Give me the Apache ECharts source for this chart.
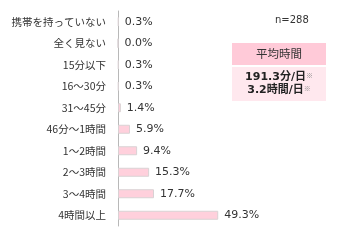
<!DOCTYPE html>
<html><head><meta charset="utf-8">
<script src="https://cdn.jsdelivr.net/npm/echarts@6/dist/echarts.min.js"></script>
<style>html,body{margin:0;padding:0;background:#fff}#c{width:350px;height:250px}</style>
</head><body><div id="c"></div>
<script>
var categories = ['携帯を持っていない','全く見ない','15分以下','16～30分','31～45分','46分～1時間','1～2時間','2～3時間','3～4時間','4時間以上'];
var values = [0.3, 0.0, 0.3, 0.3, 1.4, 5.9, 9.4, 15.3, 17.7, 49.3];
var sampleText = 'n=288';
var boxTitle = '平均時間';
var boxLines = ['191.3分/日', '3.2時間/日'];

var chart = echarts.init(document.getElementById('c'), null, {renderer:'canvas'});
chart.setOption({
  animation: false,
  grid: {left: 118, top: 11, width: 122, height: 215},
  xAxis: {type: 'value', min: 0, max: 60, show: false},
  yAxis: {
    type: 'category', inverse: true, data: categories,
    axisLine: {lineStyle: {color: '#b8b8b8', width: 1}},
    axisTick: {length: 3, lineStyle: {color: '#b8b8b8'}},
    axisLabel: {margin: 12, fontSize: 10.5, color: '#333', fontFamily: '"Noto Sans CJK JP", sans-serif'}
  },
  series: [{
    type: 'bar', data: values, barWidth: 9,
    itemStyle: {color: '#FFD0DC', borderColor: '#d9d2d4', borderWidth: 1},
    label: {show: true, position: 'right', distance: 6, fontSize: 11, color: '#333',
      fontFamily: '"DejaVu Sans", sans-serif',
      formatter: function(p){ return p.value.toFixed(1) + '%'; }}
  }],
  graphic: [
    {type: 'text', left: 275, top: 15, style: {text: sampleText, fontSize: 10, fill: '#333', fontFamily: '"DejaVu Sans", sans-serif'}},
    {type: 'rect', shape: {x: 232, y: 43, width: 94, height: 22}, style: {fill: '#FFCAD8'}},
    {type: 'rect', shape: {x: 232, y: 67, width: 94, height: 34}, style: {fill: '#FFE8EE'}},
    {type: 'text', x: 279, y: 54, style: {text: boxTitle, fontSize: 11.5, fill: '#333', align: 'center', verticalAlign: 'middle', fontFamily: '"Noto Sans CJK JP", sans-serif'}},
    {type: 'text', x: 279, y: 77.5, style: {
      text: '{b|' + boxLines[0] + '}{s|※}', align: 'center', verticalAlign: 'middle',
      rich: {b: {fontSize: 11, fontWeight: 'bold', fill: '#222', fontFamily: '"DejaVu Sans", "Noto Sans CJK JP", sans-serif'},
             s: {fontSize: 7, fill: '#888', verticalAlign: 'top', fontFamily: '"Noto Sans CJK JP", sans-serif'}}}},
    {type: 'text', x: 279, y: 90.5, style: {
      text: '{b|' + boxLines[1] + '}{s|※}', align: 'center', verticalAlign: 'middle',
      rich: {b: {fontSize: 11, fontWeight: 'bold', fill: '#222', fontFamily: '"DejaVu Sans", "Noto Sans CJK JP", sans-serif'},
             s: {fontSize: 7, fill: '#888', verticalAlign: 'top', fontFamily: '"Noto Sans CJK JP", sans-serif'}}}}
  ]
});
</script></body></html>
